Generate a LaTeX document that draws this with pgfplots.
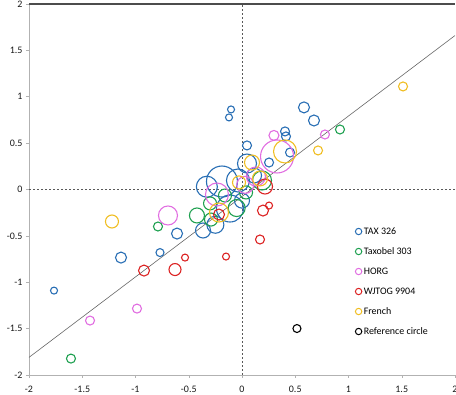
\documentclass[border=0pt]{standalone}
\usepackage{fontspec}
\setmainfont{Carlito}
\usepackage{pgfplots}
\pgfplotsset{compat=1.18}
\usepackage{pgfplotstable}
\definecolor{ctax}{RGB}{40,110,180}
\definecolor{cgreen}{RGB}{30,160,80}
\definecolor{cpink}{RGB}{225,110,225}
\definecolor{cred}{RGB}{220,35,35}
\definecolor{cyel}{RGB}{240,190,35}
\pgfplotsset{bub/.style={scatter, only marks, mark=o, line width=1.1bp, forget plot,
  visualization depends on={value \thisrow{r}\as\rad},
  scatter/@pre marker code/.code={\scope[mark size=\rad bp - 0.5bp]},
  scatter/@post marker code/.code={\endscope}}}
\begin{document}
\begin{tikzpicture}
\begin{axis}[
  scale only axis, width=426bp, height=371bp,
  at={(0,0)}, anchor=south west,
  xmin=-2, xmax=2, ymin=-2, ymax=2,
  xtick={-2,-1.5,-1,-0.5,0,0.5,1,1.5,2},
  ytick={-2,-1.5,-1,-0.5,0,0.5,1,1.5,2},
  xtick pos=bottom, ytick pos=left,
  tick align=outside, major tick length=3bp,
  tick style={gray!60, line width=0.5bp},
  axis line style={draw=none},
  ticklabel style={font=\fontsize{10}{12}\selectfont, text=black!90},
  xticklabel shift=4.5bp,
  /pgf/number format/assume math mode=true,
  clip=false,
  legend style={at={(axis cs:1.035,-0.37)}, anchor=north west, draw=none, fill=none,
    font=\fontsize{10}{12}\selectfont, row sep=9bp, column sep=1bp,
    nodes={inner sep=1bp, text height=7bp, text depth=2bp}},
  legend cell align=left,
  legend image code/.code={\draw[#1, mark size=3.2bp, line width=1bp] plot coordinates {(0.12cm,0cm)};},
]
% frame lines
\addplot[forget plot, gray!60, line width=0.8bp] coordinates {(-2,2) (-2,-2) (2,-2)};
\addplot[forget plot, black!70, line width=1.2bp] coordinates {(-2,2) (2,2)};
% zero lines
\addplot[forget plot, black!65, line width=0.8bp, dash pattern=on 2bp off 2bp] coordinates {(0,-2) (0,2)};
\addplot[forget plot, black!65, line width=0.8bp, dash pattern=on 2bp off 2bp] coordinates {(-2,0) (2,0)};
% TAX 326
\addplot[bub, ctax] table[row sep=\\] {
x y r\\
-1.765 -1.090 4\\
-1.136 -0.734 6\\
-0.770 -0.680 4.5\\
-0.610 -0.475 6\\
-0.366 -0.442 8\\
-0.103 0.863 4\\
-0.122 0.777 4\\
0.582 0.885 6\\
0.676 0.744 6\\
0.404 0.626 5\\
0.413 0.572 5\\
0.451 0.399 5\\
0.047 0.475 5\\
0.254 0.291 5\\
-0.188 0.086 16\\
-0.038 0.097 12\\
0.047 0.280 10\\
-0.113 -0.205 14\\
0.113 0.151 8\\
-0.330 0.030 11\\
-0.250 -0.380 9\\
0.000 -0.120 8\\
};
% Taxobel 303
\addplot[bub, cgreen] table[row sep=\\] {
x y r\\
-1.606 -1.823 5\\
-0.789 -0.399 5\\
-0.423 -0.280 8\\
-0.291 -0.324 7\\
0.920 0.647 5\\
0.188 0.097 10\\
-0.160 -0.065 7\\
0.038 -0.032 7\\
-0.050 -0.200 9\\
-0.300 -0.150 7\\
};
% HORG
\addplot[bub, cpink] table[row sep=\\] {
x y r\\
-1.427 -1.413 5\\
-0.986 -1.284 5\\
-0.695 -0.280 10\\
-0.235 -0.054 12\\
0.131 0.140 10\\
0.329 0.356 17\\
0.300 0.583 5.5\\
0.779 0.593 5\\
0.030 0.050 9\\
};
% WJTOG 9904
\addplot[bub, cred] table[row sep=\\] {
x y r\\
-0.920 -0.874 6\\
-0.629 -0.863 6.5\\
-0.535 -0.734 4\\
-0.150 -0.723 4\\
0.169 -0.539 5\\
0.197 -0.227 6\\
0.254 -0.173 4\\
0.216 0.032 8\\
-0.216 -0.270 6\\
};
% French
\addplot[bub, cyel] table[row sep=\\] {
x y r\\
-1.221 -0.345 7\\
1.512 1.111 5\\
0.714 0.421 5\\
0.404 0.410 12\\
0.094 0.291 8\\
-0.028 0.076 7\\
-0.216 -0.248 10\\
0.169 0.119 8\\
};
% Reference circle
\addplot[bub, black] table[row sep=\\] {
x y r\\
0.516 -1.499 4.5\\
};
% regression line
\addplot[forget plot, black!60, line width=0.6bp] coordinates {(-2,-1.81) (2,1.66)};
% legend
\addlegendimage{only marks, mark=o, ctax}
\addlegendentry{TAX 326}
\addlegendimage{only marks, mark=o, cgreen}
\addlegendentry{Taxobel 303}
\addlegendimage{only marks, mark=o, cpink}
\addlegendentry{HORG}
\addlegendimage{only marks, mark=o, cred}
\addlegendentry{WJTOG 9904}
\addlegendimage{only marks, mark=o, cyel}
\addlegendentry{French}
\addlegendimage{only marks, mark=o, black}
\addlegendentry{Reference circle}
\end{axis}
\pgfresetboundingbox
\useasboundingbox (-29bp,-20bp) rectangle (427bp,375bp);
\end{tikzpicture}
\end{document}
